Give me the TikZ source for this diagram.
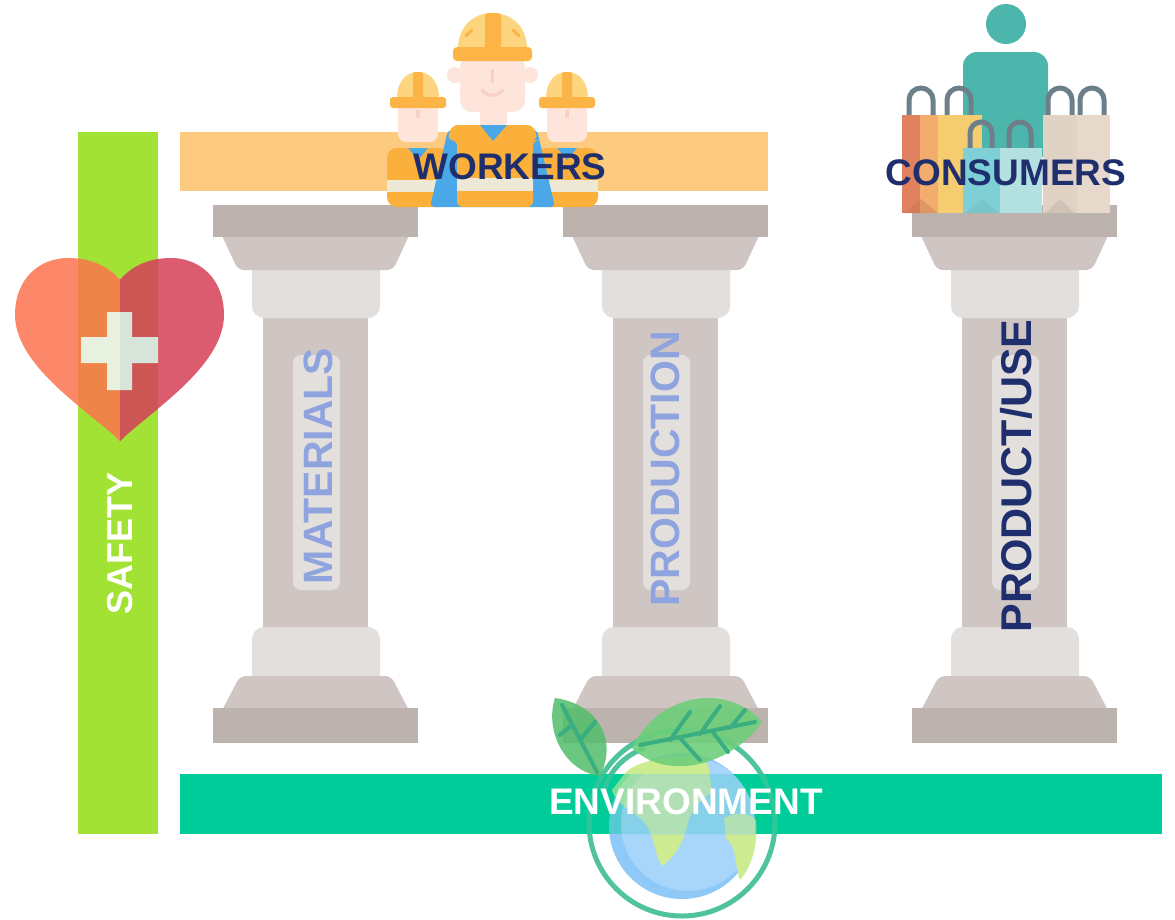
\documentclass[tikz,border=0pt]{standalone}
\usepackage{fontspec}
\setmainfont{Liberation Sans}
% palette
\definecolor{slab}{HTML}{BCB2AE}
\definecolor{stone}{HTML}{CFC6C4}
\definecolor{stonelight}{HTML}{E2DFDD}
\definecolor{safetygreen}{HTML}{A2E234}
\definecolor{workbar}{HTML}{FDCB80}
\definecolor{envbar}{HTML}{00CC99}
\definecolor{navy}{HTML}{1F2F6E}
\definecolor{periwinkle}{HTML}{8FA4DF}
\definecolor{heartL}{HTML}{FD8869}
\definecolor{heartR}{HTML}{DC5C6F}
\definecolor{heartLmix}{HTML}{EE8449}
\definecolor{heartRmix}{HTML}{CD5655}
\definecolor{crossL}{HTML}{E8F0E0}
\definecolor{crossR}{HTML}{D6E4DA}
\definecolor{helmet}{HTML}{FCD57E}
\definecolor{helmetdark}{HTML}{FBB445}
\definecolor{skin}{HTML}{FDE5DC}
\definecolor{skindark}{HTML}{F9D0C4}
\definecolor{vest}{HTML}{FBB03B}
\definecolor{shirt}{HTML}{4AA8E8}
\definecolor{stripe}{HTML}{EEE8D6}
\definecolor{teal}{HTML}{4DB6AC}
\definecolor{handle}{HTML}{6D7F8A}
\definecolor{bagA}{HTML}{E0825F}
\definecolor{bagB}{HTML}{F2AD6D}
\definecolor{bagC}{HTML}{F5CC6F}
\definecolor{bagD}{HTML}{7FD0D6}
\definecolor{bagE}{HTML}{B3E0E1}
\definecolor{bagF}{HTML}{E0D2C4}
\definecolor{bagG}{HTML}{E6D9CC}
\definecolor{ring}{HTML}{4FC39B}
\definecolor{seaL}{HTML}{A8D5FA}
\definecolor{seaD}{HTML}{8EC9F7}
\definecolor{land}{HTML}{CDEC92}
\definecolor{leaf}{HTML}{6CCF78}
\definecolor{leafdark}{HTML}{52BE6A}
\definecolor{vein}{HTML}{3AAE80}

\tikzset{
  bigtext/.style={inner sep=0pt, font=\bfseries\fontsize{37}{37}\selectfont},
  pillartext/.style={inner sep=0pt, rotate=90, font=\bfseries\fontsize{41}{41}\selectfont},
  baghandle/.style={handle, line width=5pt},
  % one column, origin at the top-left corner of its top slab
  pillar/.pic={
    \fill[stone] (50,100) rectangle (155,440);
    \fill[stonelight, rounded corners=8] (80,150) rectangle (127,385);
    \fill[stonelight, rounded corners=12] (39,45) rectangle (167,113);
    \fill[stonelight, rounded corners=12] (39,422) rectangle (167,490);
    \fill[stone, rounded corners=6] (4,20) -- (201,20) -- (180,65) -- (25,65) -- cycle;
    \fill[stone, rounded corners=6] (27,471) -- (178,471) -- (201,515) -- (4,515) -- cycle;
    \fill[slab] (0,0) rectangle (205,32);
    \fill[slab] (0,503) rectangle (205,538);
  },
}

% globe with leaves, reused inside the environment bar
\newcommand\globeart{%
  \draw[ring, line width=5pt] (682,823) circle (93);
  \fill[seaD] (682,826) circle (73);
  \fill[seaL] (688,824) circle (67);
  \fill[land] (626,772) .. controls (640,758) and (690,752) .. (708,764)
     -- (712,792) .. controls (700,800) and (692,808) .. (688,822)
     .. controls (684,842) and (674,858) .. (662,866)
     .. controls (652,850) and (656,832) .. (640,818)
     .. controls (626,808) and (614,800) .. (612,790) -- cycle;
  \fill[land] (724,818) .. controls (735,812) and (750,812) .. (756,820)
     .. controls (758,845) and (752,866) .. (740,880)
     .. controls (734,866) and (738,848) .. (726,838) -- cycle;
  \draw[ring, line width=5pt] (604,790) .. controls (610,770) and (625,755) .. (645,748);
  \fill[leaf, opacity=0.88] (632,748) .. controls (660,690) and (730,684) .. (762,722)
     .. controls (735,762) and (670,784) .. (632,748) -- cycle;
  \draw[vein, line width=4pt, line cap=round] (640,745) -- (755,722)
     (670,740) -- (690,712) (700,734) -- (720,706) (730,728) -- (745,710)
     (680,738) -- (700,760) (712,731) -- (728,752);
  \fill[leafdark, opacity=0.85] (600,776) .. controls (618,740) and (598,704) .. (555,698)
     .. controls (544,732) and (566,772) .. (600,776) -- cycle;
  \draw[vein, line width=4pt, line cap=round] (597,772) -- (562,705)
     (580,740) -- (595,722) (572,725) -- (560,735);
}

\begin{document}
\begin{tikzpicture}[x=1pt,y=-1pt]
\useasboundingbox (0,0) rectangle (1175,919);
\fill[white] (0,0) rectangle (1175,919);

% safety bar and heart
\fill[safetygreen] (78,132) rectangle (158,834);
\fill[heartL] (120,441) .. controls (95,415) and (15,368) .. (15,315)
   .. controls (15,278) and (40,258) .. (68,258)
   .. controls (92,258) and (110,268) .. (120,280) -- cycle;
\fill[heartR] (120,441) .. controls (145,415) and (224,368) .. (224,315)
   .. controls (224,278) and (199,258) .. (171,258)
   .. controls (147,258) and (130,268) .. (120,280) -- cycle;
\begin{scope}
  \clip (78,132) rectangle (158,834);
  \fill[heartLmix] (120,441) .. controls (95,415) and (15,368) .. (15,315)
     .. controls (15,278) and (40,258) .. (68,258)
     .. controls (92,258) and (110,268) .. (120,280) -- cycle;
  \fill[heartRmix] (120,441) .. controls (145,415) and (224,368) .. (224,315)
     .. controls (224,278) and (199,258) .. (171,258)
     .. controls (147,258) and (130,268) .. (120,280) -- cycle;
\end{scope}
\fill[crossL] (107,312) rectangle (120,390) (81,337) rectangle (120,363);
\fill[crossR] (120,312) rectangle (132,390) (120,337) rectangle (158,363);

% columns
\pic at (213,205) {pillar};
\pic at (563,205) {pillar};
\pic at (912,205) {pillar};

% workers bar
\fill[workbar] (180,132) rectangle (768,191);

% side workers
\foreach \cx in {418,567}{
  \fill[skin, rounded corners=8] (\cx-20,100) rectangle (\cx+20,142);
  \fill[skindark] (\cx-2,110) rectangle (\cx+2,118);
  \fill[vest, rounded corners=10] (\cx-31,148) rectangle (\cx+31,207);
  \fill[shirt] (\cx-10,148) -- (\cx+10,148) -- (\cx,160) -- cycle;
  \fill[stripe] (\cx-31,180) rectangle (\cx+31,192);
  \fill[helmet] (\cx-21,99) .. controls (\cx-21,80) and (\cx-11,72) .. (\cx,72)
     .. controls (\cx+11,72) and (\cx+21,80) .. (\cx+21,99) -- cycle;
  \fill[helmetdark, rounded corners=2] (\cx-5,72) rectangle (\cx+5,99);
  \fill[helmetdark, rounded corners=3] (\cx-28,97) rectangle (\cx+28,108);
}

% central worker
\fill[skin] (455,75) circle (8) (530,75) circle (8);
\fill[skin, rounded corners=12] (460,55) rectangle (525,112);
\fill[skin] (480,108) rectangle (507,126);
\draw[skindark, line width=3pt, line cap=round] (492,70) -- (492,82);
\draw[skindark, line width=3pt, line cap=round] (482,90) .. controls (487,97) and (498,97) .. (503,90);
\fill[shirt, rounded corners=4] (448,130) -- (537,130) -- (555,207) -- (430,207) -- cycle;
\fill[vest, rounded corners=6] (452,125) -- (533,125) -- (538,140) -- (533,140)
   -- (533,207) -- (457,207) -- (457,140) -- (447,140) -- cycle;
\fill[shirt] (480,125) -- (507,125) -- (493,141) -- cycle;
\fill[stripe] (457,178) rectangle (533,191);
\fill[helmet] (458,49) .. controls (458,25) and (475,13) .. (492,13)
   .. controls (510,13) and (527,25) .. (527,49) -- cycle;
\fill[helmetdark, rounded corners=3] (485,13) rectangle (501,49);
\draw[helmetdark, line width=3pt, line cap=round] (466,36) -- (472,30) (519,36) -- (513,30);
\fill[helmetdark, rounded corners=4] (453,47) rectangle (532,61);

\node[bigtext, text=navy] (workers) at (510,167) {WORKERS};

% consumer with shopping bags
\fill[teal] (1006,24) circle (20);
\fill[teal, rounded corners=14] (963,52) rectangle (1048,160);
\draw[baghandle] (909,120) -- (909,100) arc[start angle=180, end angle=360, radius=12] -- (933,120)
  (947,120) -- (947,100) arc[start angle=180, end angle=360, radius=12] -- (971,120)
  (1048,120) -- (1048,100) arc[start angle=180, end angle=360, radius=12] -- (1072,120)
  (1080,120) -- (1080,100) arc[start angle=180, end angle=360, radius=12] -- (1104,120);
\fill[bagA] (902,115) rectangle (920,213);
\fill[bagB] (920,115) rectangle (938,213);
\fill[bagC] (938,115) rectangle (982,213);
\fill[bagF] (1043,115) rectangle (1077,213);
\fill[bagG] (1077,115) rectangle (1110,213);
\draw[baghandle] (970,152) -- (970,133) arc[start angle=180, end angle=360, radius=11] -- (992,152)
  (1009,152) -- (1009,133) arc[start angle=180, end angle=360, radius=11] -- (1031,152);
\fill[bagD] (963,148) rectangle (1000,213);
\fill[bagE] (1000,148) rectangle (1042,213);
\fill[bagA!85!black, opacity=0.35] (904,213) -- (921,199) -- (938,213) -- cycle;
\fill[bagD!85!black, opacity=0.35] (965,213) -- (982,199) -- (999,213) -- cycle;
\fill[bagF!85!black, opacity=0.45] (1045,213) -- (1060,199) -- (1075,213) -- cycle;

\node[bigtext, text=navy] (consumers) at (1006,173) {CONSUMERS};

% environment bar with the globe showing through
\globeart
\fill[envbar] (180,774) rectangle (1162,834);
\begin{scope}
  \clip (180,774) rectangle (1162,834);
  \begin{scope}[opacity=0.6]
    \globeart
  \end{scope}
\end{scope}
\node[bigtext, text=white] (environment) at (686,802) {ENVIRONMENT};

% vertical labels
\node[inner sep=0pt, rotate=90, text=white, font=\bfseries\fontsize{36}{36}\selectfont] (safety) at (120,543) {SAFETY};
\node[pillartext, text=periwinkle] (materials) at (318,466) {MATERIALS};
\node[pillartext, text=periwinkle] (production) at (665,469) {PRODUCTION};
\node[pillartext, text=navy, text depth=0pt, font=\bfseries\fontsize{43}{43}\selectfont] (productuse) at (1016,476) {PRODUCT/USE};
\end{tikzpicture}
\end{document}
